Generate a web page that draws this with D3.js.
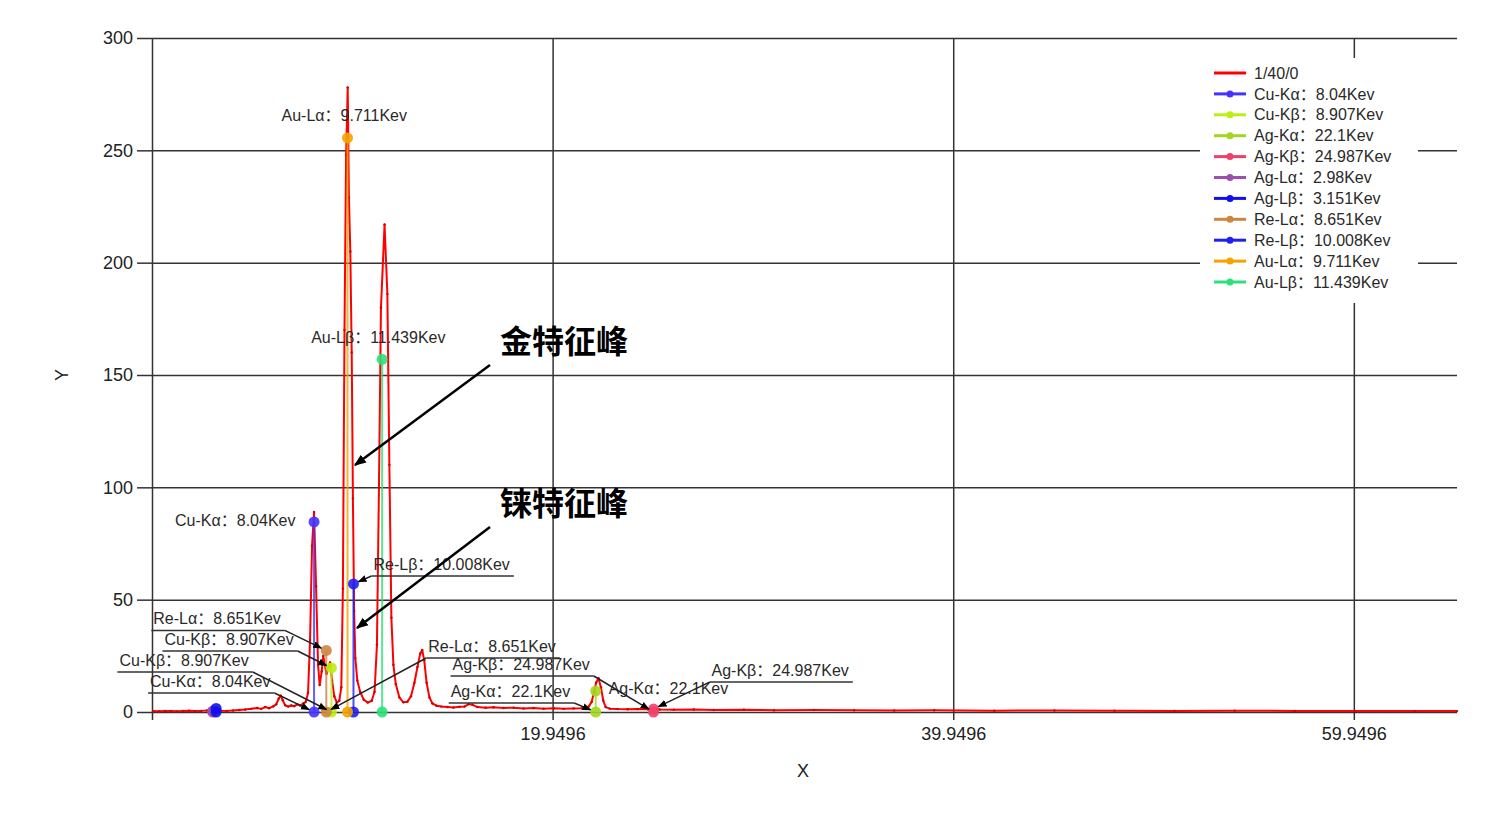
<!DOCTYPE html>
<html lang="zh">
<head>
<meta charset="UTF-8">
<title>能谱图</title>
<script src="https://d3js.org/d3.v7.min.js"></script>
<style>
  body { margin: 0; background: #fff; }
  svg text { font-family: "Liberation Sans", Arial, "Noto Sans CJK SC", sans-serif; }
</style>
</head>
<body>
<div id="chart"></div>
<script>
// spectrum "1/40/0": energy (keV) and counts
const specEnergy = [0.0, 0.3, 0.6, 0.9, 1.2, 1.5, 1.8, 2.1, 2.4, 2.7, 3.0, 3.2, 3.4, 3.7, 4.0, 4.3, 4.6, 4.9, 5.2, 5.4,
  5.6, 5.8, 6.0, 6.15, 6.28, 6.38, 6.48, 6.6, 6.75, 6.9, 7.05, 7.2, 7.35, 7.5, 7.62, 7.74, 7.84, 7.94, 8.04, 8.14,
  8.24, 8.32, 8.42, 8.5, 8.58, 8.66, 8.74, 8.84, 8.94, 9.05, 9.18, 9.3, 9.4, 9.48, 9.56, 9.64, 9.72, 9.78, 9.85, 9.92,
  9.98, 10.04, 10.1, 10.2, 10.34, 10.52, 10.72, 10.92, 11.06, 11.18, 11.28, 11.38, 11.56, 11.7, 11.8, 11.9, 12.0, 12.12, 12.3, 12.5,
  12.7, 12.88, 13.05, 13.2, 13.34, 13.44, 13.54, 13.66, 13.8, 13.95, 14.15, 14.4, 14.7, 15.0, 15.3, 15.55, 15.75, 15.95, 16.2, 16.6,
  17.0, 17.5, 18.0, 18.5, 19.0, 19.5, 20.0, 20.5, 21.0, 21.4, 21.75, 21.9, 22.02, 22.12, 22.24, 22.36, 22.48, 22.6, 22.8, 23.2,
  23.7, 24.2, 24.7, 25.0, 25.3, 26.0, 27.0, 28.0, 29.5, 31.0, 33.0, 35.0, 37.0, 39.0, 42.0, 45.0, 48.0, 51.0, 54.0, 57.0,
  60.0, 63.0, 65.1];
const specCounts = [0.4, 0.3, 0.5, 0.4, 0.3, 0.5, 0.6, 0.4, 0.5, 0.7, 0.9, 1.0, 0.6, 0.5, 0.7, 0.9, 1.1, 1.4, 1.8, 1.4,
  2.2, 1.7, 2.5, 3.4, 6.0, 7.3, 5.2, 3.0, 2.4, 2.9, 2.6, 3.4, 2.9, 3.8, 4.4, 8.5, 32, 74, 89, 56,
  21, 12, 18, 25, 21, 17, 20, 22, 14, 7, 4.2, 5, 11, 55, 170, 248, 278, 229, 205, 160,
  95, 45, 24, 14, 9, 5.5, 4.2, 5, 9, 30, 100, 180, 217, 186, 110, 42, 21, 12.5, 6.5, 4.3,
  4.6, 7, 13, 20, 26, 27.6, 23, 13, 6.5, 3.8, 2.8, 2.4, 2.2, 2.0, 2.3, 2.4, 3.5, 3.2, 2.2, 1.9,
  2.1, 1.8, 1.9, 1.6, 1.8, 1.5, 1.7, 1.4, 1.6, 1.7, 2.4, 4.5, 9, 13, 15, 11, 5, 2.2, 1.5, 1.3,
  1.2, 1.3, 1.2, 1.5, 1.1, 1.0, 1.1, 0.9, 1.0, 0.8, 0.9, 0.8, 0.7, 0.8, 0.6, 0.7, 0.6, 0.5, 0.6, 0.5,
  0.5, 0.4, 0.4];

// characteristic lines: name, energy (keV), marker height
const peakNames = ['Cu-Kα', 'Cu-Kβ', 'Ag-Kα', 'Ag-Kβ', 'Ag-Lα', 'Ag-Lβ', 'Re-Lα', 'Re-Lβ', 'Au-Lα', 'Au-Lβ'];
const peakEnergies = [8.04, 8.907, 22.1, 24.987, 2.98, 3.151, 8.651, 10.008, 9.711, 11.439];
const peakHeights = [84.6, 19.6, 9.3, 1.3, 0.4, 1.6, 27.4, 57, 255.5, 157];

const xTicks = [19.9496, 39.9496, 59.9496];
const yTicks = [0, 50, 100, 150, 200, 250, 300];

const width = 1502, height = 814;
const plotL = 152, plotR = 1457, plotT = 38, plotB = 712;

const color = d3.scaleOrdinal()
  .domain(peakNames)
  .range(['#4433ff', '#bbee11', '#a5d61f', '#f0406a', '#9b4fb0', '#1010ee', '#cd853f', '#2020f0', '#f5a300', '#2ee07a']);

const x = d3.scaleLinear().domain([-0.0504, 65.1]).range([plotL, plotR]);
const y = d3.scaleLinear().domain([0, 300]).range([plotB, plotT]);

const svg = d3.select('#chart').append('svg')
  .attr('width', width)
  .attr('height', height)
  .style('background', '#fff');

const defs = svg.append('defs');
defs.append('marker').attr('id', 'arr')
  .attr('viewBox', '0 -5 10 10').attr('refX', 9).attr('refY', 0)
  .attr('markerWidth', 9).attr('markerHeight', 9).attr('markerUnits', 'userSpaceOnUse')
  .attr('orient', 'auto')
  .append('path').attr('d', 'M0,-4L10,0L0,4Z').attr('fill', '#000');
defs.append('marker').attr('id', 'arrBig')
  .attr('viewBox', '0 -5 10 10').attr('refX', 9).attr('refY', 0)
  .attr('markerWidth', 12).attr('markerHeight', 12).attr('markerUnits', 'userSpaceOnUse')
  .attr('orient', 'auto')
  .append('path').attr('d', 'M0,-4L10,0L0,4Z').attr('fill', '#000');

// grid
svg.append('g').attr('transform', `translate(${plotL},0)`)
  .call(d3.axisLeft(y).tickValues(yTicks).tickSize(-(plotR - plotL)).tickFormat(''))
  .call(g => g.select('.domain').remove())
  .selectAll('line').attr('stroke', '#333').attr('stroke-width', 1.5);

svg.append('g').attr('transform', `translate(0,${plotB})`)
  .call(d3.axisBottom(x).tickValues(xTicks).tickSize(-(plotB - plotT)).tickFormat(''))
  .call(g => g.select('.domain').remove())
  .selectAll('line').attr('stroke', '#333').attr('stroke-width', 1.5);

// axes
svg.append('g').attr('transform', `translate(${plotL},0)`)
  .call(d3.axisLeft(y).tickValues(yTicks).tickSize(15).tickPadding(4))
  .call(g => g.select('.domain').remove())
  .call(g => g.selectAll('line').attr('stroke', '#333').attr('stroke-width', 1.5))
  .call(g => g.selectAll('text').attr('font-size', 18).attr('fill', '#222')
    .attr('font-family', '"Liberation Sans", Arial, sans-serif'));

svg.append('g').attr('transform', `translate(0,${plotB})`)
  .call(d3.axisBottom(x).tickValues(xTicks).tickSize(8).tickPadding(7).tickFormat(d3.format('.4f')))
  .call(g => g.select('.domain').remove())
  .call(g => g.selectAll('line').attr('stroke', '#333').attr('stroke-width', 1.5))
  .call(g => g.selectAll('text').attr('font-size', 18).attr('fill', '#222')
    .attr('font-family', '"Liberation Sans", Arial, sans-serif'));

svg.append('line')
  .attr('x1', plotL + 0.5).attr('x2', plotL + 0.5)
  .attr('y1', plotT).attr('y2', plotB + 8)
  .attr('stroke', '#333').attr('stroke-width', 1.5);

svg.append('text').attr('x', 803).attr('y', 777).attr('text-anchor', 'middle')
  .attr('font-size', 18).attr('fill', '#222').text('X');
svg.append('text').attr('transform', 'translate(68,375) rotate(-90)').attr('text-anchor', 'middle')
  .attr('font-size', 18).attr('fill', '#222').text('Y');

// spectrum
const spec = specEnergy.map((e, i) => [e, specCounts[i]]);
const line = d3.line().x(d => x(d[0])).y(d => y(d[1]));

svg.append('path')
  .datum(spec)
  .attr('d', line)
  .attr('fill', 'none')
  .attr('stroke', '#ff0000')
  .attr('stroke-width', 2)
  .attr('stroke-linejoin', 'round');

svg.append('g').selectAll('circle')
  .data(spec)
  .enter()
  .append('circle')
  .attr('cx', d => x(d[0]))
  .attr('cy', d => y(d[1]))
  .attr('r', 1.2)
  .attr('fill', '#d40000');

// characteristic line series: (E, 0) -> (E, h)
const peaks = peakNames.map((name, i) => ({
  name: name,
  energy: peakEnergies[i],
  pts: [[peakEnergies[i], 0], [peakEnergies[i], peakHeights[i]]]
}));

svg.append('g').selectAll('path')
  .data(peaks)
  .enter()
  .append('path')
  .attr('d', d => line(d.pts))
  .attr('stroke', d => color(d.name))
  .attr('stroke-width', 2)
  .attr('stroke-opacity', 0.8)
  .attr('fill', 'none');

svg.append('g').selectAll('circle')
  .data(peaks.flatMap(p => p.pts.map(pt => ({ name: p.name, pt: pt }))))
  .enter()
  .append('circle')
  .attr('cx', d => x(d.pt[0]))
  .attr('cy', d => y(d.pt[1]))
  .attr('r', 5.5)
  .attr('fill', d => color(d.name))
  .attr('fill-opacity', 0.9);

// point labels (dx, dy = text start / baseline relative to the point)
const labelText = name => `${name}：${peakEnergies[peakNames.indexOf(name)]}Kev`;
const labels = [
  { name: 'Au-Lα', pt: 1, dx: -66, dy: -17 },
  { name: 'Au-Lβ', pt: 1, dx: -71, dy: -16 },
  { name: 'Cu-Kα', pt: 1, dx: -139, dy: 4 },
  { name: 'Ag-Kα', pt: 1, dx: 13, dy: 3 },
  { name: 'Re-Lβ', pt: 1, dx: 20, dy: -14, callout: true },
  { name: 'Re-Lα', pt: 1, dx: -173, dy: -26, callout: true },
  { name: 'Cu-Kβ', pt: 1, dx: -167, dy: -23, callout: true },
  { name: 'Cu-Kβ', pt: 0, dx: -212, dy: -46, callout: true },
  { name: 'Cu-Kα', pt: 0, dx: -164, dy: -25, callout: true },
  { name: 'Re-Lα', pt: 0, dx: 102, dy: -60, callout: true },
  { name: 'Ag-Kβ', pt: 0, dx: -201, dy: -42, callout: true },
  { name: 'Ag-Kα', pt: 0, dx: -145, dy: -15, callout: true },
  { name: 'Ag-Kβ', pt: 1, dx: 58, dy: -33, callout: true }
];

const labelG = svg.append('g');
labels.forEach(l => {
  const p = peaks.find(d => d.name === l.name).pts[l.pt];
  const px = x(p[0]), py = y(p[1]);
  const tx = px + l.dx, ty = py + l.dy;
  const t = labelG.append('text')
    .attr('x', tx).attr('y', ty)
    .attr('font-size', 16).attr('fill', '#2a2a2a')
    .text(labelText(l.name));
  if (!l.callout) return;
  const w = t.node().getComputedTextLength();
  const uy = ty + 6, ux0 = tx - 2, ux1 = tx + w + 4;
  labelG.append('line')
    .attr('x1', ux0).attr('x2', ux1).attr('y1', uy).attr('y2', uy)
    .attr('stroke', '#333').attr('stroke-width', 1.5);
  const sx = l.dx < 0 ? ux1 : ux0;
  const vx = px - sx, vy = py - uy, len = Math.hypot(vx, vy);
  const ex = px - vx / len * 5.5, ey = py - vy / len * 5.5;
  labelG.append('line')
    .attr('x1', sx).attr('y1', uy).attr('x2', ex).attr('y2', ey)
    .attr('stroke', '#222').attr('stroke-width', 1.5)
    .attr('marker-end', 'url(#arr)');
});

// legend
const legendNames = ['1/40/0'].concat(peakNames);
const legend = svg.append('g');
legend.append('rect')
  .attr('x', 1200).attr('y', 58).attr('width', 218).attr('height', 245)
  .attr('fill', '#fff');
const item = legend.selectAll('g.item')
  .data(legendNames)
  .enter()
  .append('g')
  .attr('class', 'item')
  .attr('transform', (d, i) => `translate(1214,${73 + i * 20.9})`);
item.append('line')
  .attr('x1', 0).attr('x2', 32)
  .attr('stroke', (d, i) => i === 0 ? '#ff0000' : color(d))
  .attr('stroke-width', 3);
item.filter((d, i) => i > 0).append('circle')
  .attr('cx', 16).attr('r', 3.5)
  .attr('fill', d => color(d));
item.append('text')
  .attr('x', 40).attr('dy', '0.35em')
  .attr('font-size', 16).attr('fill', '#2a2a2a')
  .text((d, i) => i === 0 ? d : labelText(d));

// characteristic peak notes
const notes = [
  { text: '金特征峰', tx: 500, ty: 353, from: [490, 365], to: [355, 465] },
  { text: '铼特征峰', tx: 500, ty: 515, from: [490, 527], to: [357, 628] }
];
notes.forEach(n => {
  svg.append('text')
    .attr('x', n.tx).attr('y', n.ty)
    .attr('font-family', '"Noto Sans CJK SC", sans-serif')
    .attr('font-weight', 700)
    .attr('font-size', 32)
    .attr('fill', '#000')
    .text(n.text);
  svg.append('line')
    .attr('x1', n.from[0]).attr('y1', n.from[1])
    .attr('x2', n.to[0]).attr('y2', n.to[1])
    .attr('stroke', '#000').attr('stroke-width', 2.5)
    .attr('marker-end', 'url(#arrBig)');
});
</script>
</body>
</html>
